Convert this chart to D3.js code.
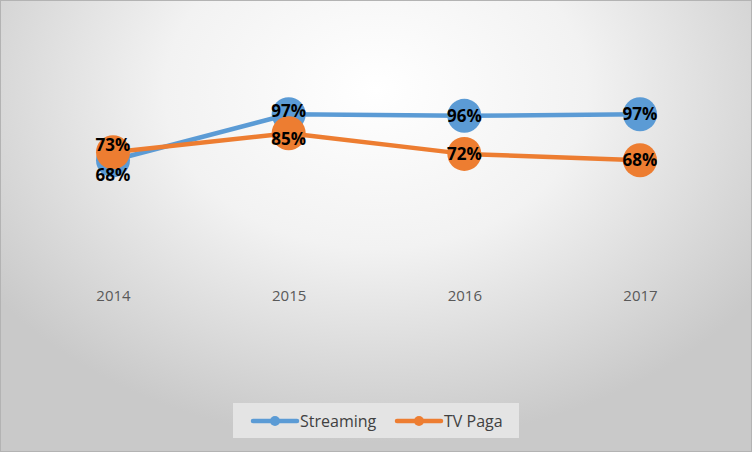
<!DOCTYPE html>
<html>
<head>
<meta charset="utf-8">
<script src="https://cdn.jsdelivr.net/npm/d3@7"></script>
<style>
  html, body { margin: 0; padding: 0; background: #fff; }
  svg { display: block; }
</style>
</head>
<body>
<svg id="chart" width="752" height="452"></svg>
<script>
const years = ["2014", "2015", "2016", "2017"];
const streaming = [0.68, 0.97, 0.96, 0.97];
const tvPaga = [0.73, 0.85, 0.72, 0.68];
const seriesNames = ["Streaming", "TV Paga"];
const colors = ["#5B9BD5", "#ED7D31"];

const width = 752, height = 452;
const svg = d3.select("#chart");

// background with soft radial gradient
const defs = svg.append("defs");
const grad = defs.append("radialGradient")
  .attr("id", "bg")
  .attr("gradientUnits", "userSpaceOnUse")
  .attr("cx", 376).attr("cy", 90)
  .attr("r", 470)
  .attr("gradientTransform", "translate(376,90) scale(1,0.75) translate(-376,-90)");
grad.append("stop").attr("offset", "0%").attr("stop-color", "#ffffff");
grad.append("stop").attr("offset", "45%").attr("stop-color", "#f2f2f2");
grad.append("stop").attr("offset", "100%").attr("stop-color", "#c9c9c9");

svg.append("rect")
  .attr("x", 0.5).attr("y", 0.5)
  .attr("width", width - 1).attr("height", height - 1)
  .attr("fill", "url(#bg)")
  .attr("stroke", "#b3b3b3");

const x = d3.scalePoint().domain(years).range([113, 640]);
const y = d3.scaleLinear().domain([0, 1]).range([268, 109.5]);

const xAxis = d3.axisBottom(x).tickSize(0).tickPadding(0);
const xAxisG = svg.append("g")
  .attr("transform", "translate(0,290)")
  .call(xAxis);
xAxisG.select(".domain").remove();
xAxisG.selectAll("text")
  .attr("dy", "0.71em")
  .attr("fill", "#595959")
  .attr("font-family", "'Open Sans', 'Liberation Sans', sans-serif")
  .attr("font-size", 15);

const data = [streaming, tvPaga].map((vals, i) => ({
  name: seriesNames[i],
  color: colors[i],
  values: vals.map((v, j) => ({ year: years[j], value: v }))
}));

const line = d3.line().x(d => x(d.year)).y(d => y(d.value));

const seriesG = svg.append("g");
data.forEach(s => {
  const g = seriesG.append("g");
  g.append("path")
    .datum(s.values)
    .attr("d", line)
    .attr("fill", "none")
    .attr("stroke", s.color)
    .attr("stroke-width", 4.5)
    .attr("stroke-linejoin", "round");
  g.selectAll("circle")
    .data(s.values)
    .join("circle")
    .attr("cx", d => x(d.year))
    .attr("cy", d => y(d.value))
    .attr("r", 17)
    .attr("fill", s.color);
});

// data labels, nudged apart where the two series sit close together
const nudge = (si, j) => {
  if (j === 0) return si === 0 ? 15 : -7;
  if (j === 1) return si === 0 ? -3 : 6;
  return 0;
};

const labelG = svg.append("g")
  .attr("font-family", "'Open Sans', 'Liberation Sans', sans-serif")
  .attr("font-weight", 700)
  .attr("font-size", 17)
  .attr("fill", "#000")
  .attr("text-anchor", "middle");

data.forEach((s, si) => {
  labelG.selectAll(null)
    .data(s.values)
    .join("text")
    .attr("x", d => x(d.year))
    .attr("y", (d, j) => y(d.value) + nudge(si, j))
    .attr("dy", "0.35em")
    .text(d => Math.round(d.value * 100) + "%");
});

// legend
const legend = svg.append("g");
legend.append("rect")
  .attr("x", 233).attr("y", 403)
  .attr("width", 286).attr("height", 35)
  .attr("fill", "#e4e4e4");

const legendItems = [{ x: 253 }, { x: 397 }];
data.forEach((s, i) => {
  const lx = legendItems[i].x, ly = 421;
  legend.append("line")
    .attr("x1", lx).attr("x2", lx + 44)
    .attr("y1", ly).attr("y2", ly)
    .attr("stroke", s.color)
    .attr("stroke-width", 4.5)
    .attr("stroke-linecap", "round");
  legend.append("circle")
    .attr("cx", lx + 22).attr("cy", ly).attr("r", 5)
    .attr("fill", s.color);
  legend.append("text")
    .attr("x", lx + 47).attr("y", ly)
    .attr("dy", "0.35em")
    .attr("fill", "#404040")
    .attr("font-family", "'Open Sans', 'Liberation Sans', sans-serif")
    .attr("font-size", 16)
    .text(s.name);
});
</script>
</body>
</html>
